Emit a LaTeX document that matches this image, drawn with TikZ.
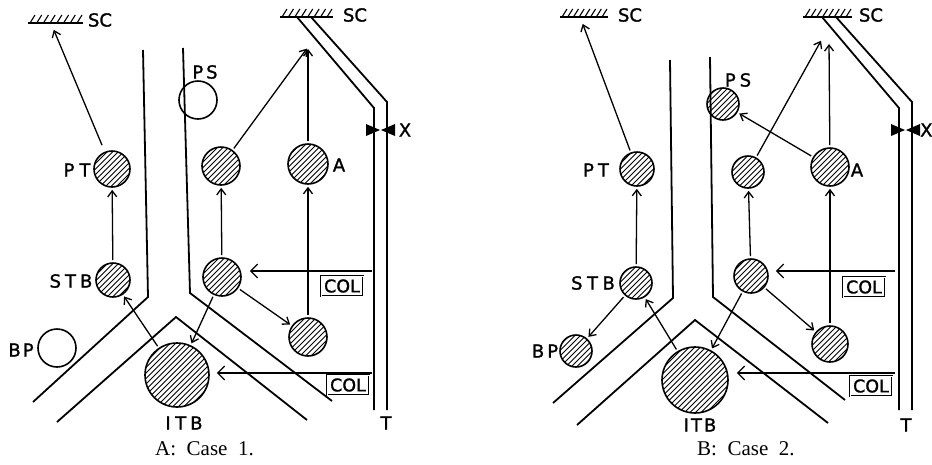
\documentclass[tikz,border=0pt]{standalone}
\usepackage{fontspec}
\setmainfont{Liberation Serif}
\newfontfamily\labfont[FakeBold=1.2]{DejaVu Sans}
\usetikzlibrary{arrows.meta,calc}
\tikzset{
  lab/.style={font=\labfont\fontsize{18}{18}\selectfont, inner sep=0pt},
  capt/.style={font=\rmfamily\fontsize{21}{21}\selectfont, inner sep=0pt},
  chan/.style={line width=1.8pt, line join=miter},
  conn/.style={line width=1.3pt, -{Straight Barb[length=6pt,width=9pt]}, shorten <=2pt, shorten >=2pt},
  colarr/.style={line width=2.6pt, -{Straight Barb[length=7pt,width=14pt,line width=1.3pt]}},
  colbox/.style={draw, line width=0.9pt, double, double distance=0.6pt, minimum width=42pt, minimum height=20pt, inner sep=0pt, font=\labfont\fontsize{17.5}{17.5}\selectfont},
  cell/.style={circle, draw, line width=1.6pt, inner sep=0pt},
}
\newcommand\mkhcell[4]{%
  \begin{scope}
    \clip (#2,#3) circle (#4pt);
    \foreach \t in {-55,-49.5,...,55}
      \draw[line width=0.9pt] ({#2+\t-#4-2},{#3+#4+2}) -- ++({2*#4+4},{-2*#4-4});
  \end{scope}
  \node[cell, minimum size={2*#4pt}] (#1) at (#2,#3) {};
}
\newcommand\mkscbar[3]{%
  \draw[line width=1.5pt] (#1,#3) -- (#2,#3);
  \foreach \k in {0,...,7}
    \draw[line width=1.1pt] ({#1+2+\k*(#2-#1-8)/7},#3) -- ++(5,-8);
}
\begin{document}
\begin{tikzpicture}[x=1pt,y=-1pt]
\useasboundingbox (0,0) rectangle (932,464);
\fill[white] (0,0) rectangle (932,464);

% ================= Panel A =================
\mkscbar{28}{83}{23}
\coordinate (scA1) at (53,28);
\node[lab] (scA1l) at (100,20) {SC};
\mkscbar{280}{333}{17}
\node[lab] (scA2l) at (355,15) {SC};
\coordinate (topA) at (308,47);
% channels
\draw[chan] (143,50) -- (148,297) -- (33,402);
\draw[chan] (183,48) -- (190,293) -- (332,401);
\draw[chan] (57,422) -- (176,317) -- (307,420);
% tract
\draw[chan] (297,17) -- (374,108) -- (374,410);
\draw[chan] (311,17) -- (387,102) -- (387,410);
\fill (366,124) -- (366,136) -- (380,130) -- cycle;
\fill (395,124) -- (395,136) -- (381,130) -- cycle;
\node[lab] (XA) at (405,130) {X};
\node[lab] (TA) at (386,423) {T};
% cells
\mkhcell{PTa}{112}{169}{18}
\mkhcell{STBa}{113}{280}{17}
\node[cell, minimum size=38pt] (BPa) at (57,348) {};
\mkhcell{ITBa}{177}{375}{32}
\node[cell, minimum size=38pt] (PSa) at (198,100) {};
\mkhcell{M1a}{221}{166}{19}
\mkhcell{Aa}{308}{164}{20}
\mkhcell{M2a}{222}{277}{19}
\mkhcell{M3a}{308}{337}{19}
% labels
\node[lab] (PTal) at (77,170) {P\hspace{5pt}T};
\node[lab] (STBal) at (71,281) {S\hspace{4pt}T\hspace{4pt}B};
\node[lab] (BPal) at (21,350) {B\hspace{2pt}P};
\node[lab] (ITBal) at (184,423) {I\hspace{4.5pt}T\hspace{4pt}B};
\node[lab] (PSal) at (205,72) {P\hspace{3pt}S};
\node[lab] (Aal) at (339,165) {A};
% connectors
\draw[conn, shorten <=7pt] (PTa) -- (scA1);
\draw[conn] (STBa) -- (PTa);
\draw[conn] (ITBa) -- (STBa);
\draw[conn] (M2a) -- (M1a);
\draw[conn] (M2a) -- (ITBa);
\draw[conn] (M2a) -- (M3a);
\draw[conn] (M3a) -- (Aa);
\draw[conn] (M1a) -- (topA);
\draw[conn] (Aa) -- (topA);
% COL
\coordinate (colA1) at (372,271);
\draw[colarr, shorten >=8pt] (colA1) -- (colA1 -| M2a.east);
\node[colbox] (colA1b) at (342,286) {COL};
\coordinate (colA2) at (372,373);
\draw[colarr, shorten >=7pt] (colA2) -- (colA2 -| ITBa.east);
\node[colbox] (colA2b) at (348,385) {COL};
\node[capt, anchor=base west] (capA) at (155,455) {A:\ \ Case\ \ 1.};

% ================= Panel B =================
\mkscbar{560}{608}{17}
\coordinate (scB1) at (582,22);
\node[lab] (scB1l) at (630,15) {SC};
\mkscbar{803}{852}{17}
\node[lab] (scB2l) at (871,15) {SC};
\coordinate (topB1) at (822,39);
\coordinate (topB2) at (829,42);
% channels
\draw[chan] (670,60) -- (673,298) -- (553,403);
\draw[chan] (710,57) -- (713,297) -- (845,400);
\draw[chan] (577,425) -- (695,320) -- (828,423);
% tract
\draw[chan] (822,17) -- (899,108) -- (899,410);
\draw[chan] (836,17) -- (912,102) -- (912,410);
\fill (891,124) -- (891,136) -- (905,130) -- cycle;
\fill (920,124) -- (920,136) -- (906,130) -- cycle;
\node[lab, anchor=west] (XB) at (920,130) {X};
\node[lab] (TB) at (906,425) {T};
% cells
\mkhcell{PTb}{637}{169}{17}
\mkhcell{STBb}{636}{283}{16}
\mkhcell{BPb}{576}{351}{16}
\mkhcell{ITBb}{695}{380}{33}
\mkhcell{PSb}{723}{104}{16}
\mkhcell{M1b}{748}{172}{16}
\mkhcell{Ab}{830}{167}{19}
\mkhcell{M2b}{751}{276}{17}
\mkhcell{M3b}{830}{344}{18}
% labels
\node[lab] (PTbl) at (596,170) {P\hspace{4pt}T};
\node[lab] (STBbl) at (593,283) {S\hspace{4.5pt}T\hspace{4.5pt}B};
\node[lab] (BPbl) at (545,351) {B\hspace{3pt}P};
\node[lab] (ITBbl) at (700,425) {I\hspace{2pt}T\hspace{2pt}B};
\node[lab] (PSbl) at (738,80) {P\hspace{4pt}S};
\node[lab] (Abl) at (857,170) {A};
% connectors
\draw[conn] (PTb) -- (scB1);
\draw[conn] (STBb) -- (PTb);
\draw[conn] (STBb) -- (BPb);
\draw[conn] (ITBb) -- (STBb);
\draw[conn] (M2b) -- (M1b);
\draw[conn] (M2b) -- (ITBb);
\draw[conn] (M2b) -- (M3b);
\draw[conn] (M3b) -- (Ab);
\draw[conn] (M1b) -- (topB1);
\draw[conn] (Ab) -- (topB2);
\draw[conn] (Ab) -- (PSb);
% COL
\coordinate (colB1) at (895,271);
\draw[colarr, shorten >=7pt] (colB1) -- (colB1 -| M2b.east);
\node[colbox] (colB1b) at (864,287) {COL};
\coordinate (colB2) at (895,373);
\draw[colarr, shorten >=8pt] (colB2) -- (colB2 -| ITBb.east);
\node[colbox] (colB2b) at (871,386) {COL};
\node[capt, anchor=base west] (capB) at (697,455) {B:\ \ Case\ \ 2.};
\end{tikzpicture}
\end{document}
